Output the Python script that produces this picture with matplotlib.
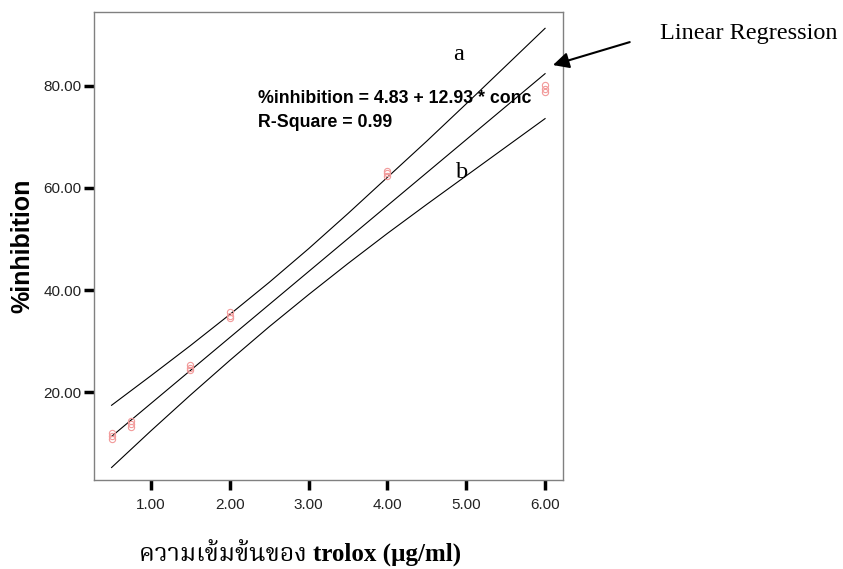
import matplotlib
matplotlib.use('Agg')
import matplotlib.pyplot as plt
from matplotlib import font_manager

# trolox standard curve, three readings per concentration
conc = [0.5, 0.75, 1.5, 2.0, 4.0, 6.0]
inhib_rep1 = [10.7, 13.2, 24.3, 34.5, 62.4, 78.9]
inhib_rep2 = [11.3, 13.8, 24.8, 35.0, 62.9, 79.5]
inhib_rep3 = [11.9, 14.4, 25.3, 35.6, 63.4, 80.1]

# fitted line: %inhibition = intercept + slope * conc
intercept = 4.83
slope = 12.93
r_square = 0.99
fit_range = [0.5, 6.0]

# upper (a) and lower (b) interval curves
band_x = [0.5, 1.0, 1.5, 2.0, 2.5, 3.0, 3.5, 4.0, 4.5, 5.0, 5.5, 6.0]
band_upper = [17.4, 23.2, 29.1, 35.2, 41.5, 48.1, 55.0, 62.1, 69.2, 76.5, 83.9, 91.3]
band_lower = [5.2, 12.4, 19.4, 26.2, 32.8, 39.1, 45.2, 51.1, 56.8, 62.4, 68.0, 73.6]

xticks = [1, 2, 3, 4, 5, 6]
yticks = [20, 40, 60, 80]

# Thai glyphs need a Thai-capable font if one is around
installed = {f.name for f in font_manager.fontManager.ttflist}
thai = [f for f in ['Noto Serif Thai', 'Noto Sans Thai', 'Loma', 'Garuda', 'Norasi',
                    'Tlwg Typo', 'FreeSerif'] if f in installed]
serif_thai = ['Liberation Serif'] + thai + ['DejaVu Sans']

plt.rcParams['font.family'] = ['Liberation Sans', 'DejaVu Sans']

fig = plt.figure(figsize=(8.43, 5.69), dpi=100)
ax = fig.add_axes([0.1115, 0.1564, 0.5564, 0.8225])

fit_y = [intercept + slope * c for c in fit_range]
ax.plot(band_x, band_upper, color='black', lw=0.8)
ax.plot(fit_range, fit_y, color='black', lw=0.8)
ax.plot(band_x, band_lower, color='black', lw=0.8)

for rep in (inhib_rep1, inhib_rep2, inhib_rep3):
    ax.plot(conc, rep, ls='none', marker='o', ms=4.5, mfc='none',
            mec='#f29a9a', mew=0.8)

ax.set_xlim(0.277, 6.228)
ax.set_ylim(2.75, 94.5)
ax.set_xticks(xticks)
ax.set_yticks(yticks)
ax.set_xticklabels([f'{v:.2f}' for v in xticks])
ax.set_yticklabels([f'{v:.2f}' for v in yticks])

for s in ax.spines.values():
    s.set_color('#808080')
    s.set_linewidth(1.0)

ax.tick_params(axis='both', direction='out', color='black', width=2.5,
               labelsize=11, labelcolor='#222222')
ax.tick_params(axis='x', length=7, pad=6)
ax.tick_params(axis='y', length=7.5, pad=1.5)

ax.set_ylabel('%inhibition', fontsize=18, fontweight='bold', va='center')
ax.yaxis.set_label_coords(-0.153, 0.5)
ax.set_xlabel('ความเข้มข้นของ trolox (µg/ml)', fontsize=18, fontweight='bold',
              family=serif_thai, va='center')
ax.xaxis.set_label_coords(0.439, -0.156)

ax.text(2.36, 77.6, f'%inhibition = {intercept:.2f} + {slope:.2f} * conc',
        fontsize=12.8, fontweight='bold', va='center')
ax.text(2.36, 72.9, f'R-Square = {r_square:.2f}',
        fontsize=12.8, fontweight='bold', va='center')

ax.text(4.90, 86.1, 'a', fontsize=17.5, family='Liberation Serif',
        ha='center', va='center')
ax.text(4.95, 63.1, 'b', fontsize=17.5, family='Liberation Serif',
        ha='center', va='center')

fig.text(0.783, 0.942, 'Linear Regression', fontsize=17.5,
         family='Liberation Serif', va='center')
ax.annotate('', xy=(6.10, 84.1), xytext=(0.747, 0.926),
            textcoords='figure fraction', annotation_clip=False,
            arrowprops=dict(arrowstyle='-|>', color='black', lw=1.5,
                            mutation_scale=24, shrinkA=0, shrinkB=0))

fig.savefig('out.png', dpi=100)
